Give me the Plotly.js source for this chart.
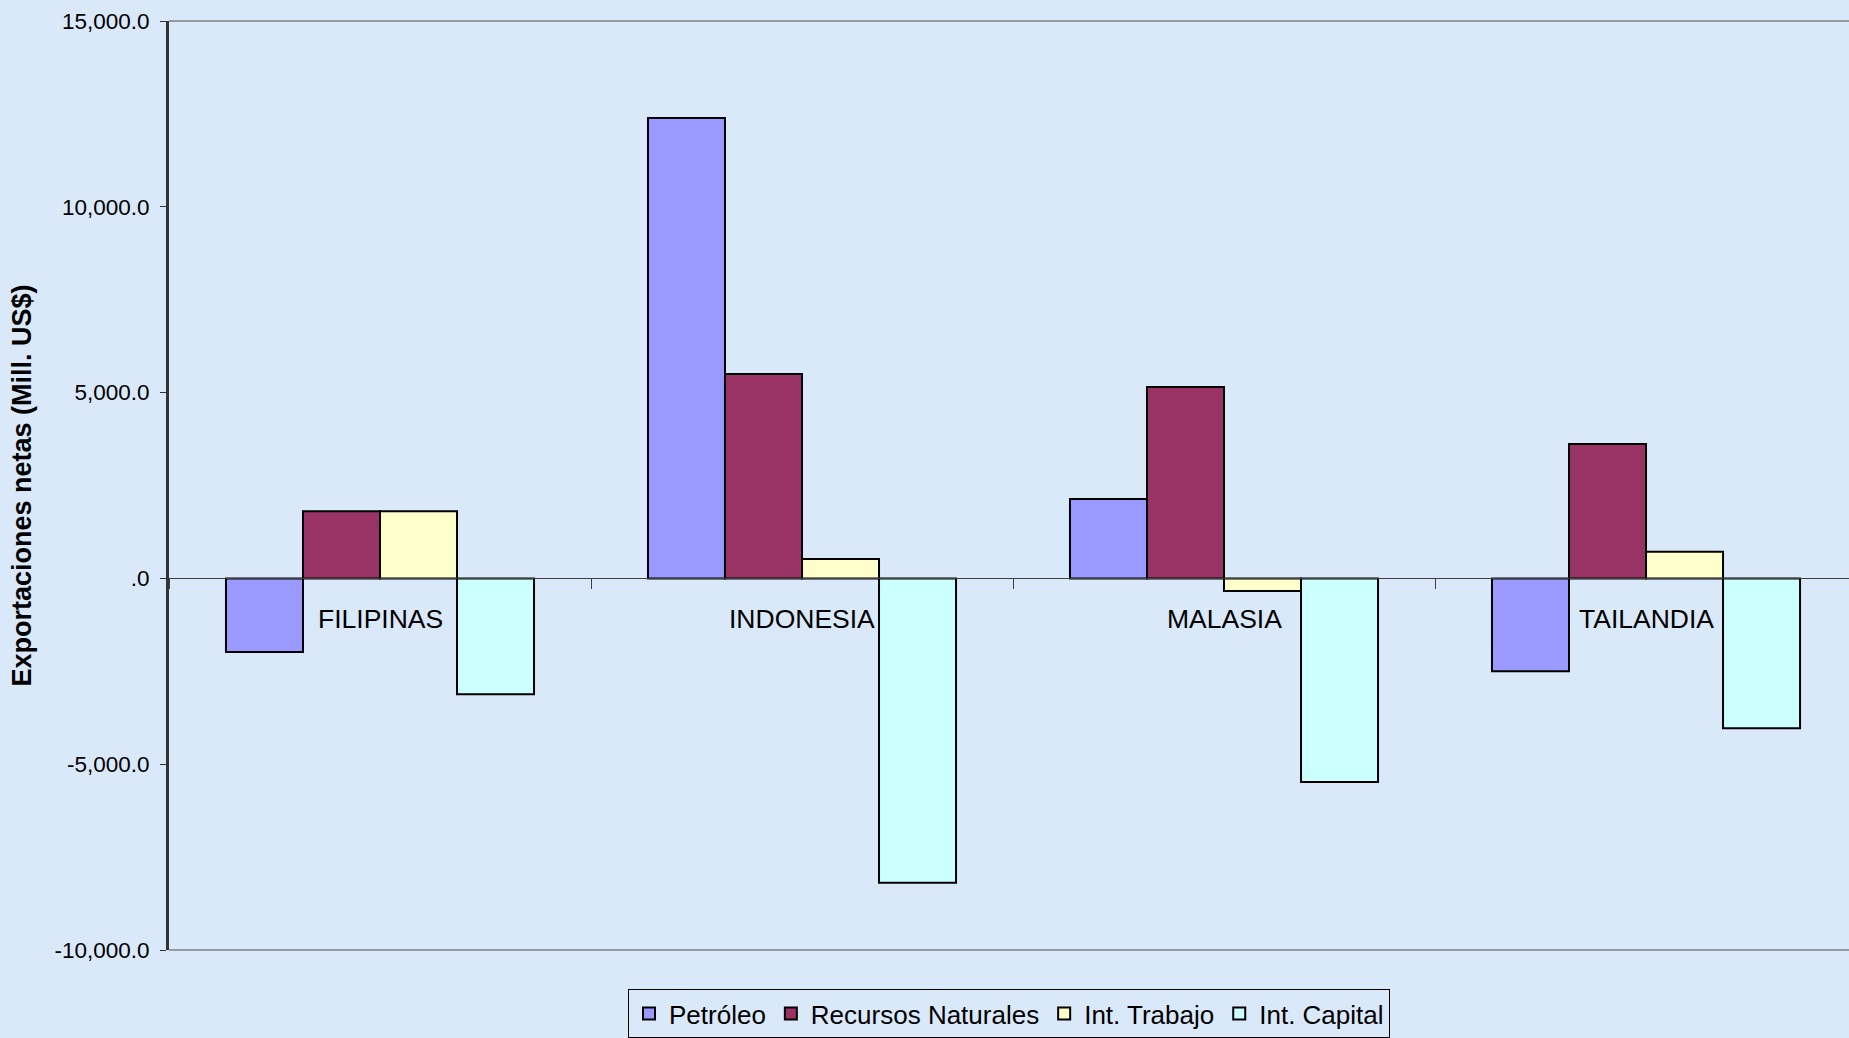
<!DOCTYPE html>
<html>
<head>
<meta charset="utf-8">
<script src="https://cdn.plot.ly/plotly-3.0.1.min.js"></script>
<style>
html,body{margin:0;padding:0;background:#dae9f9;}
#chart{width:1849px;height:1038px;}
</style>
</head>
<body>
<div id="chart"></div>
<script>
const categories = ["FILIPINAS", "INDONESIA", "MALASIA", "TAILANDIA"];
const seriesNames = ["Petróleo", "Recursos Naturales", "Int. Trabajo", "Int. Capital"];
const petroleo = [-1980, 12390, 2140, -2500];
const recursosNaturales = [1810, 5500, 5150, 3620];
const intTrabajo = [1810, 520, -340, 720];
const intCapital = [-3120, -8190, -5480, -4030];
const seriesColors = ["#9999FF", "#993366", "#FFFFCC", "#CCFFFF"];
const yTickVals = [-10000, -5000, 0, 5000, 10000, 15000];
const yTickText = ["-10,000.0", "-5,000.0", ".0", "5,000.0", "10,000.0", "15,000.0"];

const seriesValues = [petroleo, recursosNaturales, intTrabajo, intCapital];
const traces = seriesValues.map((vals, i) => ({
  type: "bar",
  name: seriesNames[i],
  x: categories,
  y: vals,
  marker: {color: seriesColors[i], line: {color: "#000000", width: 2}},
  hoverinfo: "x+y+name"
}));

const annotations = categories.map(c => ({
  x: c, y: 0, xref: "x", yref: "y",
  text: c, showarrow: false,
  yanchor: "middle", yshift: -41,
  font: {family: "Liberation Sans, Arial, sans-serif", size: 26.5, color: "#000000"}
}));

const layout = {
  width: 1849, height: 1038,
  paper_bgcolor: "rgba(0,0,0,0)",
  plot_bgcolor: "rgba(0,0,0,0)",
  margin: {l: 169, r: 0, t: 21, b: 85, pad: 0},
  barmode: "group",
  bargap: 0.27,
  bargroupgap: 0,
  showlegend: true,
  legend: {
    orientation: "h",
    x: 0.5, xanchor: "center",
    y: -0.042, yanchor: "top",
    bordercolor: "#000000", borderwidth: 1,
    bgcolor: "rgba(0,0,0,0)",
    itemwidth: 30,
    font: {family: "Liberation Sans, Arial, sans-serif", size: 26, color: "#000000"}
  },
  xaxis: {
    type: "category",
    range: [-0.5, 3.481],
    anchor: "free",
    position: 0.4,
    showline: true, linecolor: "#404040", linewidth: 1,
    ticks: "outside", tickson: "boundaries", ticklen: 10, tickcolor: "#404040", tickwidth: 1,
    showticklabels: false,
    showgrid: false, zeroline: false, fixedrange: true
  },
  yaxis: {
    range: [-10000, 15000],
    tickvals: yTickVals,
    ticktext: yTickText,
    ticks: "outside", ticklen: 6, tickcolor: "#333333", tickwidth: 1,
    showline: true, linecolor: "#333333", linewidth: 3,
    showgrid: false, zeroline: false,
    ticklabelstandoff: 6,
    tickfont: {family: "Liberation Sans, Arial, sans-serif", size: 22.5, color: "#000000"},
    title: {
      text: "Exportaciones netas (Mill. US$)",
      standoff: 15,
      font: {family: "Liberation Sans, Arial, sans-serif", size: 27, color: "#000000", weight: "bold"}
    }
  },
  shapes: [
    {type: "line", xref: "paper", yref: "paper", x0: 0, x1: 1, y0: 1, y1: 1, line: {color: "#808080", width: 1.5}},
    {type: "line", xref: "paper", yref: "paper", x0: 0, x1: 1, y0: 0, y1: 0, line: {color: "#808080", width: 1.5}}
  ],
  annotations: annotations
};

Plotly.newPlot("chart", traces, layout, {displayModeBar: false, staticPlot: true});
</script>
</body>
</html>
